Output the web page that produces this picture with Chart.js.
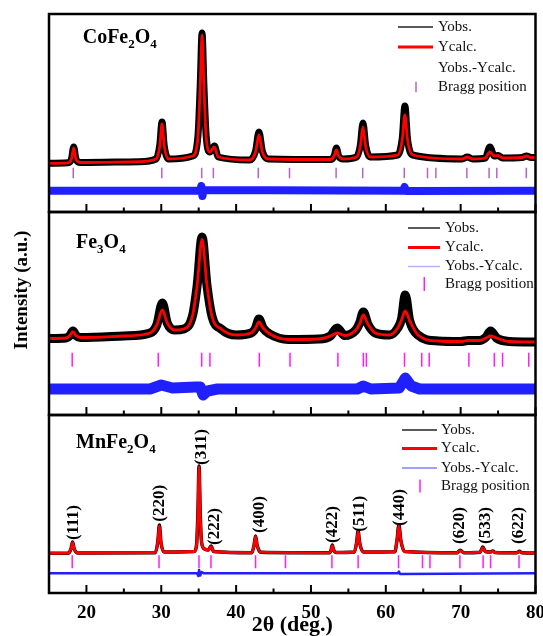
<!DOCTYPE html>
<html>
<head>
<meta charset="utf-8">
<script src="https://cdn.jsdelivr.net/npm/chart.js@4.4.0/dist/chart.umd.min.js"></script>
<style>
  html, body { margin: 0; padding: 0; background: #fff; }
  #wrap { position: relative; width: 543px; height: 636px; overflow: hidden; }
  canvas { position: absolute; left: 0; }
  #ytitle {
    position: absolute; left: -78px; top: 278px; width: 200px; height: 24px; line-height: 24px;
    text-align: center; font: bold 19px 'Liberation Serif', serif; color: #000;
    transform: rotate(-90deg);
  }
</style>
</head>
<body>
<div id="wrap">
  <canvas id="c1" width="560" height="214" style="top:0px"></canvas>
  <canvas id="c2" width="560" height="207" style="top:210px"></canvas>
  <canvas id="c3" width="560" height="223" style="top:413px"></canvas>
  <div id="ytitle">Intensity (a.u.)</div>
</div>
<script>
// ---- CoFe2O4 ----
const coTheta = [15, 17.5, 18.0, 18.3, 18.6, 19.2, 27, 29.3, 29.8, 30.1, 30.4, 31.0, 34.2, 34.9, 35.2, 35.45, 35.7, 36.0, 36.5, 37.1, 37.6, 41.8, 42.6, 43.05, 43.5, 44.3, 52.6, 53.1, 53.4, 53.7, 54.3, 56.1, 56.6, 56.95, 57.3, 57.9, 61.6, 62.2, 62.55, 62.9, 63.6, 70.2, 70.9, 71.6, 73.3, 73.9, 74.5, 75.0, 75.6, 78.2, 78.8, 79.4, 80];
const coCalc = [48.7, 49.2, 53, 64, 53, 49.5, 50.3, 53, 66, 88, 66, 53, 56, 75, 125, 177, 125, 75, 60, 65, 55, 52, 60, 77, 60, 53, 52.5, 56, 62, 56, 53, 55, 66, 85, 66, 55, 57, 72, 97, 72, 57, 53, 55, 53, 54, 60, 56, 56.5, 54, 54.5, 56, 54.5, 54.5];
const coObs = [48.7, 49.2, 53, 65, 53, 49.5, 50.3, 53, 67, 90, 66, 53, 56, 76, 126, 179, 126, 76, 60, 66, 55, 52, 61, 80, 61, 53, 52.5, 56, 64, 56, 53, 55, 67, 89, 67, 55, 57, 74, 106, 73, 57, 53, 55, 53, 54, 65, 56, 56.5, 54, 54.5, 56, 54.5, 54.5];
const coDiffTheta = [15, 35.2, 35.35, 35.5, 35.65, 62.3, 62.5, 62.7, 80];
const coDiff = [21.3, 21.3, 26, 16, 22, 21.3, 25, 21, 21.3];
const coBragg = [18.24, 30.07, 35.4, 36.96, 42.96, 47.13, 53.36, 56.91, 62.47, 65.57, 66.69, 70.83, 73.8, 74.83, 78.77];

// ---- Fe3O4 ----
const feTheta = [15, 17.3, 17.8, 18.2, 18.6, 19.2, 25, 28.5, 29.4, 30.15, 30.8, 31.8, 33.0, 34.2, 34.8, 35.45, 36.1, 36.8, 38.0, 40.0, 42.0, 42.6, 43.05, 43.6, 44.5, 47, 51, 52.6, 53.5, 54.5, 56.0, 56.5, 57.0, 57.6, 58.6, 60.5, 61.6, 62.1, 62.6, 63.2, 64.3, 67, 70, 71, 72.5, 73.4, 74.0, 74.8, 76.5, 80];
const feCalc = [76.5, 77, 79.5, 83.3, 79.5, 77.5, 79, 82, 90, 105, 92, 85, 86, 100, 130, 175.7, 130, 98, 86, 80, 82, 87, 93, 87, 81, 75.5, 76, 79, 82, 79.5, 85, 91, 100, 91, 82, 80, 87, 95, 104, 94, 80, 74, 73.5, 74.5, 74.5, 77, 79, 77, 73.5, 73];
const feObs = [76.5, 77, 79.5, 84, 79.5, 77.5, 79, 82, 90, 112, 92, 85, 86, 100, 130, 178, 130, 98, 86, 80, 82, 87, 96, 87, 81, 75.5, 76, 79, 87, 79.5, 85, 92, 103, 91, 82, 80, 87, 96, 120, 94, 80, 74, 73.5, 74.5, 74.5, 78, 84, 77, 73.5, 73];
const feDiffTheta = [15, 28.5, 30.0, 31.5, 34.6, 35.2, 35.6, 36.2, 37.5, 56.2, 57.0, 58.0, 61.8, 62.6, 63.4, 64.5, 80];
const feDiff = [26, 26, 30, 27, 28, 28, 20, 24, 26, 26, 29, 26, 27, 37, 29, 26, 26];
const feBragg = [18.1, 29.6, 35.4, 36.5, 43.1, 47.2, 53.6, 57.0, 57.4, 62.5, 64.8, 65.8, 71.1, 74.5, 75.6, 79.1];

// ---- MnFe2O4 ----
const mnTheta = [15, 17.6, 17.95, 18.15, 18.35, 18.8, 29.2, 29.55, 29.75, 29.95, 30.4, 34.4, 34.7, 34.9, 35.05, 35.2, 35.4, 35.8, 36.3, 36.65, 37.0, 42.1, 42.4, 42.6, 42.8, 43.3, 52.5, 52.7, 52.85, 53.0, 53.4, 55.8, 56.1, 56.3, 56.5, 57.0, 61.2, 61.5, 61.75, 62.0, 62.5, 69.5, 69.95, 70.4, 72.6, 72.95, 73.3, 74.0, 74.3, 74.6, 77.5, 77.85, 78.2, 80];
const mnCalc = [39.7, 39.8, 44.5, 50.3, 44.5, 40, 40.3, 52, 67, 51, 41, 41.5, 47, 80, 126.3, 80, 50, 44, 43, 46.3, 41.5, 40.3, 48, 56.3, 48, 40.8, 40.2, 43.5, 47.3, 43.5, 40.5, 41, 50.5, 61.3, 50.5, 41, 41.2, 53, 67, 53, 41.5, 40.2, 42.3, 40.3, 40.8, 45.3, 41.5, 41, 41.5, 40.5, 40.2, 41.3, 40.2, 40];
const mnObs = [39.7, 39.8, 44.5, 51, 44.5, 40, 40.3, 52, 68, 51, 41, 41.5, 47, 81, 127, 80, 50, 44, 43, 47, 41.5, 40.3, 48, 57, 48, 40.8, 40.2, 43.5, 48, 43.5, 40.5, 41, 50.5, 62, 50.5, 41, 41.2, 53, 68, 53, 41.5, 40.2, 42.8, 40.3, 40.8, 46, 41.5, 41, 42, 40.5, 40.2, 41.8, 40.2, 40];
const mnDiffTheta = [15, 34.8, 34.95, 35.05, 35.2, 35.4, 35.7, 61.6, 61.75, 61.9, 80];
const mnDiff = [19.7, 19.7, 17, 23, 17.5, 21, 19.7, 19.7, 21.5, 19, 19.7];
const mnBragg = [18.1, 29.7, 35.04, 36.64, 42.6, 46.6, 52.8, 56.3, 61.7, 64.9, 65.9, 69.9, 73.0, 74.0, 77.8];

const hklLabels = ['(111)', '(220)', '(311)', '(222)', '(400)', '(422)', '(511)', '(440)', '(620)', '(533)', '(622)'];
const hklTheta = [18.24, 29.8, 35.44, 37.13, 43.13, 52.83, 56.47, 61.8, 69.9, 73.27, 77.7];
const hklBase = [53, 71.3, 128, 48, 60, 50, 61.3, 67, 49, 49, 49];

const SERIF = "'Liberation Serif', 'Times New Roman', serif";
const xy = (xs, ys) => xs.map((v, i) => ({x: v, y: ys[i]}));

// frame, inward ticks, sample name, legend, peak labels
const deco = {
  id: 'deco',
  afterDatasetsDraw(chart, args, opts) {
    const {ctx, chartArea: a} = chart;
    const x = chart.scales.x, y = chart.scales.y;
    ctx.save();
    ctx.strokeStyle = '#000';
    ctx.lineWidth = 2.5;
    ctx.strokeRect(a.left, a.top, a.right - a.left, a.bottom - a.top);
    ctx.lineWidth = 2;
    for (let t = 20; t <= 80; t += 5) {
      const px = x.getPixelForValue(t);
      const len = t % 10 === 0 ? 8 : 4.5;
      ctx.beginPath();
      ctx.moveTo(px, a.bottom);
      ctx.lineTo(px, a.bottom - len);
      ctx.stroke();
    }

    // compound name with subscripts
    ctx.fillStyle = '#000';
    ctx.textBaseline = 'alphabetic';
    let cx = opts.name.x;
    const by = opts.name.y - opts.top;
    for (const [txt, sub] of opts.name.parts) {
      ctx.font = sub ? `bold 13px ${SERIF}` : `bold 20px ${SERIF}`;
      ctx.fillText(txt, cx, by + (sub ? 5 : 0));
      cx += ctx.measureText(txt).width;
    }

    // legend
    const lg = opts.legend;
    ctx.font = `15px ${SERIF}`;
    ctx.textBaseline = 'middle';
    chart.data.datasets.forEach((ds, i) => {
      const ry = lg.rows[i] - opts.top;
      ctx.fillStyle = '#111';
      ctx.fillText(ds.label, lg.tx, ry);
      if (ds.legendKind === 'line') {
        ctx.strokeStyle = ds.legendColor;
        ctx.lineWidth = ds.legendWidth;
        ctx.beginPath();
        ctx.moveTo(lg.x1, ry);
        ctx.lineTo(lg.x2, ry);
        ctx.stroke();
      } else if (ds.legendKind === 'tick') {
        ctx.strokeStyle = ds.pointBorderColor;
        ctx.lineWidth = 1.5;
        ctx.beginPath();
        ctx.moveTo(lg.mx, ry - ds.pointRadius);
        ctx.lineTo(lg.mx, ry + ds.pointRadius);
        ctx.stroke();
      }
    });

    // hkl labels
    if (opts.hkl) {
      ctx.font = `bold 17px ${SERIF}`;
      ctx.fillStyle = '#000';
      ctx.textAlign = 'left';
      ctx.textBaseline = 'middle';
      opts.hkl.labels.forEach((lab, i) => {
        ctx.save();
        ctx.translate(x.getPixelForValue(opts.hkl.theta[i]), y.getPixelForValue(opts.hkl.base[i]));
        ctx.rotate(-Math.PI / 2);
        ctx.fillText(lab, 0, 0);
        ctx.restore();
      });
    }
    ctx.restore();
  }
};

const panels = [
  {
    id: 'c1', top: 0, ymax: 198, padding: {left: 49, top: 14, right: 24.5, bottom: 2},
    theta: coTheta, calc: coCalc, obs: coObs, diffTheta: coDiffTheta, diff: coDiff, bragg: coBragg,
    obsWidth: 7, diffWidth: 8, braggLevel: 39, braggLen: 5.3, braggColor: '#b763c6',
    diffLegend: null,
    name: {x: 82.7, y: 43, parts: [['CoFe', 0], ['2', 1], ['O', 0], ['4', 1]]},
    legend: {x1: 398, x2: 433, tx: 438, mx: 416, rows: [27, 47, 68, 87]}
  },
  {
    id: 'c2', top: 210, ymax: 203, padding: {left: 49, top: 2, right: 24.5, bottom: 2},
    theta: feTheta, calc: feCalc, obs: feObs, diffTheta: feDiffTheta, diff: feDiff, bragg: feBragg,
    obsWidth: 9, diffWidth: 11, braggLevel: 55.3, braggLen: 7, braggColor: '#ff1cff',
    diffLegend: '#b4b4ff',
    name: {x: 76, y: 248.3, parts: [['Fe', 0], ['3', 1], ['O', 0], ['4', 1]]},
    legend: {x1: 408, x2: 440, tx: 445, mx: 424.3, rows: [228, 247.5, 266.5, 284]}
  },
  {
    id: 'c3', top: 413, ymax: 178, padding: {left: 49, top: 2, right: 24.5, bottom: 0},
    theta: mnTheta, calc: mnCalc, obs: mnObs, diffTheta: mnDiffTheta, diff: mnDiff, bragg: mnBragg,
    obsWidth: 3.5, diffWidth: 2.5, braggLevel: 31.3, braggLen: 6.5, braggColor: '#ff1cff',
    diffLegend: '#8080ff', showX: true,
    name: {x: 76, y: 448.3, parts: [['MnFe', 0], ['2', 1], ['O', 0], ['4', 1]]},
    legend: {x1: 402, x2: 437, tx: 441, mx: 420, rows: [430, 448.5, 468, 486]},
    hkl: {labels: hklLabels, theta: hklTheta, base: hklBase}
  }
];

panels.forEach(p => {
  const datasets = [
    {
      label: 'Yobs.', data: xy(p.theta, p.obs), order: 1,
      borderColor: '#000', borderWidth: p.obsWidth, borderJoinStyle: 'round',
      cubicInterpolationMode: 'monotone', pointRadius: 0,
      legendKind: 'line', legendColor: '#222', legendWidth: 1.5
    },
    {
      label: 'Ycalc.', data: xy(p.theta, p.calc), order: 0,
      borderColor: '#ff0000', borderWidth: 2.8, cubicInterpolationMode: 'monotone', pointRadius: 0,
      legendKind: 'line', legendColor: '#ff0000', legendWidth: 3
    },
    {
      label: 'Yobs.-Ycalc.', data: xy(p.diffTheta, p.diff), order: 2,
      borderColor: '#2020ff', borderWidth: p.diffWidth, borderJoinStyle: 'round', tension: 0, pointRadius: 0,
      legendKind: p.diffLegend ? 'line' : 'none', legendColor: p.diffLegend, legendWidth: 1.5
    },
    {
      label: 'Bragg position', data: p.bragg.map(t => ({x: t, y: p.braggLevel})), order: 3,
      showLine: false, pointStyle: 'line', pointRotation: 90, pointRadius: p.braggLen,
      pointBorderColor: p.braggColor, pointBorderWidth: 1.5, legendKind: 'tick'
    }
  ];

  const xScale = {
    type: 'linear', min: 15, max: 80, display: !!p.showX,
    grid: {display: false}, border: {display: false},
    ticks: {
      stepSize: 10, includeBounds: false, maxRotation: 0, padding: 1, color: '#000',
      font: {family: SERIF, size: 19, weight: 'bold'}
    },
    title: {
      display: true, text: '2θ (deg.)', color: '#000', padding: 0,
      font: {family: SERIF, size: 22, weight: 'bold', lineHeight: 1}
    }
  };
  if (p.showX) xScale.afterFit = scale => { scale.height = 43; };

  new Chart(document.getElementById(p.id), {
    type: 'line',
    data: {datasets},
    options: {
      responsive: false,
      animation: false,
      events: [],
      layout: {padding: p.padding, autoPadding: false},
      plugins: {
        legend: {display: false},
        tooltip: {enabled: false},
        deco: {top: p.top, name: p.name, legend: p.legend, hkl: p.hkl}
      },
      scales: {
        x: xScale,
        y: {min: 0, max: p.ymax, display: false}
      }
    },
    plugins: [deco]
  });
});
</script>
</body>
</html>
